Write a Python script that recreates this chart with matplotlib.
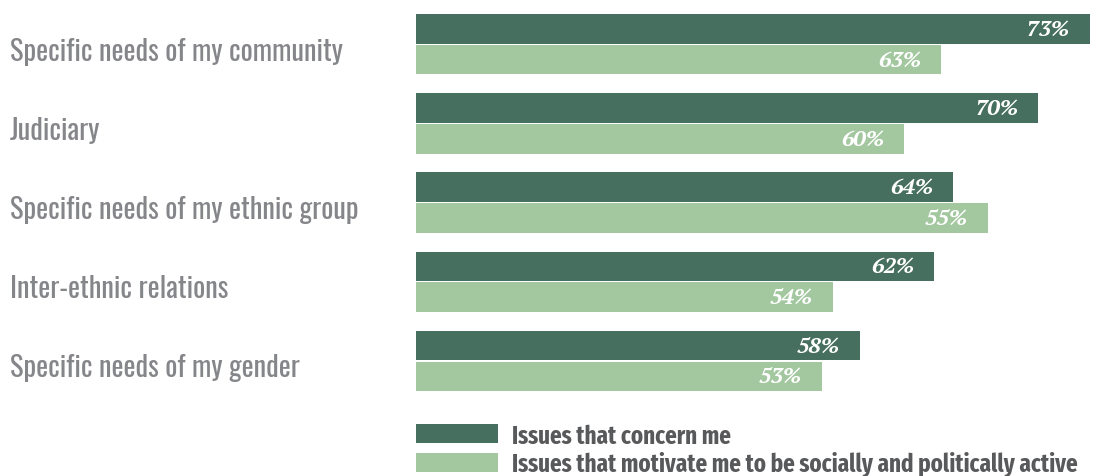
import matplotlib
matplotlib.use("Agg")
import matplotlib.pyplot as plt
import numpy as np

# data
categories = ["Specific needs of my community", "Judiciary",
              "Specific needs of my ethnic group", "Inter-ethnic relations",
              "Specific needs of my gender"]
concern_labels = [73, 70, 64, 62, 58]
motivate_labels = [63, 60, 55, 54, 53]
# bar lengths as drawn in the picture (they do not follow the labels exactly)
concern_bars = [73, 67.4, 58.2, 56.1, 48.1]
motivate_bars = [56.9, 52.9, 62.0, 45.2, 44.0]
series_names = ["Issues that concern me",
                "Issues that motivate me to be socially and politically active"]

dark = "#476f5f"
light = "#a3c8a0"
text_gray = "#85868a"
legend_gray = "#58595b"

label_font = ["Oswald", "DejaVu Sans"]
legend_font = ["Fira Sans Extra Condensed", "DejaVu Sans"]
serif = ["PT Serif", "DejaVu Serif"]

fig = plt.figure(figsize=(11.09, 4.77), dpi=100)
ax = fig.add_axes([416 / 1109, 1 - 401.6 / 477, 692 / 1109, 396 / 477])

y = np.arange(len(categories))
off = 0.195
h = 0.375
b1 = ax.barh(y - off, concern_bars, height=h, color=dark)
b2 = ax.barh(y + off, motivate_bars, height=h, color=light)

for bars, labels in ((b1, concern_labels), (b2, motivate_labels)):
    for rect, val in zip(bars, labels):
        ax.annotate(f"{val}%", (rect.get_width(), rect.get_y() + rect.get_height() / 2),
                    xytext=(-14, 0), textcoords="offset points", ha="right", va="center",
                    color="white", fontsize=16, fontweight="bold", fontstyle="italic",
                    family=serif)

ax.set_xlim(0, 75)
ax.set_ylim(len(categories) - 0.5, -0.5)
ax.axis("off")

trans = matplotlib.transforms.blended_transform_factory(fig.transFigure, ax.transData)
for i, cat in enumerate(categories):
    ax.text(10 / 1109, i + 0.08, cat, transform=trans, ha="left", va="center",
            fontsize=20.5, color=text_gray, family=label_font, fontweight="light")

leg = fig.legend([b1, b2], series_names, loc="upper left",
                 bbox_to_anchor=(416 / 1109, 1 - 424 / 477), frameon=False,
                 handlelength=3.28, handleheight=0.8, labelspacing=0.12,
                 handletextpad=0.56, borderpad=0, borderaxespad=0,
                 prop={"family": legend_font, "size": 18, "weight": "bold"})
for t in leg.get_texts():
    t.set_color(legend_gray)

fig.savefig("out.png", dpi=100)
